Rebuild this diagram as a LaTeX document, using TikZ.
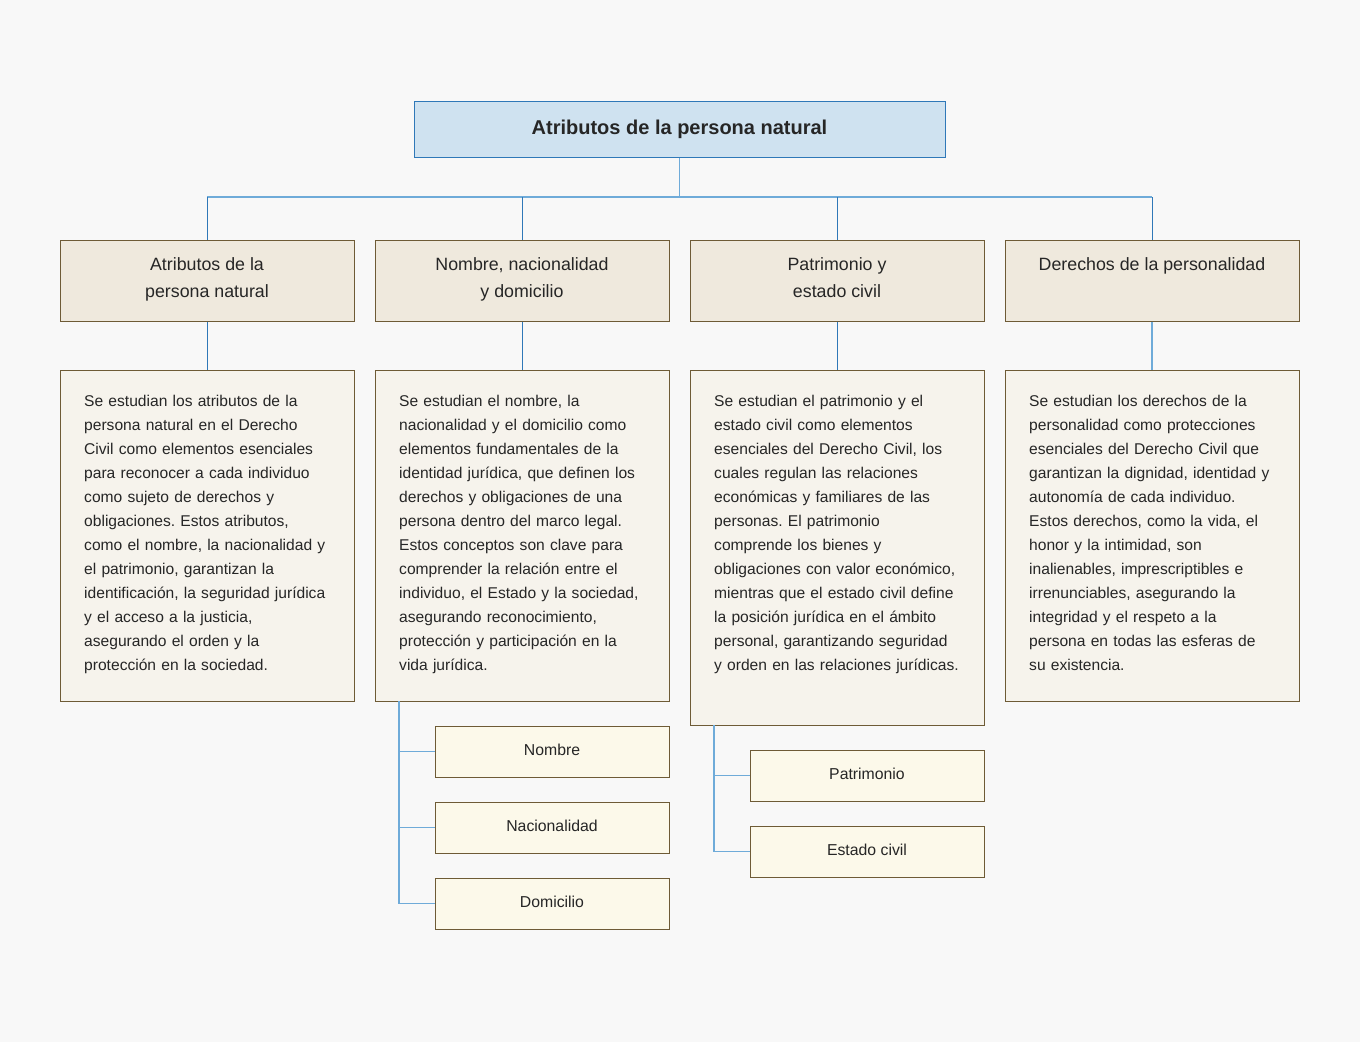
\documentclass[tikz,border=0pt]{standalone}
\usepackage{fontspec}
\setmainfont{Liberation Sans}
\frenchspacing
\definecolor{bg}{HTML}{F8F8F8}
\definecolor{titlefill}{HTML}{CFE2F0}
\definecolor{titleline}{HTML}{2F78B8}
\definecolor{brownline}{HTML}{6E5B36}
\definecolor{lvfill}{HTML}{EFE9DD}
\definecolor{descfill}{HTML}{F6F3EC}
\definecolor{subfill}{HTML}{FCF9EA}
\definecolor{lightblue}{HTML}{6FABD9}
\definecolor{darkblue}{HTML}{2F78B8}
\definecolor{txt}{HTML}{262626}
\begin{document}
\begin{tikzpicture}[x=1pt,y=-1pt,
  titlebox/.style={draw=titleline,fill=titlefill,line width=1pt,minimum width=531pt,minimum height=56pt,inner sep=0pt,text=txt,font=\fontsize{20}{24}\selectfont\bfseries},
  lvbox/.style={draw=brownline,fill=lvfill,line width=1pt,minimum width=294pt,minimum height=81pt,inner sep=0pt},
  lvtext/.style={anchor=north,inner sep=0pt,align=center,text=txt,font=\fontsize{17.8}{27}\selectfont},
  descbox/.style={draw=brownline,fill=descfill,line width=1pt,minimum width=294pt,inner sep=0pt},
  desctext/.style={anchor=north west,inner sep=0pt,align=left,text width=265pt,text=txt,font=\fontsize{15.6}{24}\selectfont},
  subbox/.style={draw=brownline,fill=subfill,line width=1pt,minimum width=234pt,minimum height=51pt,inner sep=0pt,text=txt,font=\fontsize{15.8}{18}\selectfont},
  bus/.style={draw=lightblue,line width=1.4pt},
  drop/.style={draw=darkblue,line width=0.9pt},
  sub/.style={draw=lightblue,line width=1.7pt}
]
\fill[bg] (0,0) rectangle (1360,1042);
\useasboundingbox (0,0) rectangle (1360,1042);

% title
\node[titlebox] (top) at (679.5,129) {\raisebox{4pt}{Atributos de la persona natural}};

% level 2 boxes
\node[lvbox] (l1) at (207,280.5) {};
\node[lvbox] (l2) at (522,280.5) {};
\node[lvbox] (l3) at (837,280.5) {};
\node[lvbox] (l4) at (1152,280.5) {};
\node[lvtext] (lt1) at (207,257.5) {Atributos de la\\persona natural};
\node[lvtext] (lt2) at (522,257.5) {Nombre, nacionalidad\\y domicilio};
\node[lvtext] (lt3) at (837,257.5) {Patrimonio y\\estado civil};
\node[lvtext] (lt4) at (1152,257.5) {Derechos de la personalidad};

% description boxes
\node[descbox,minimum height=331pt] (d1) at (207,535.5) {};
\node[descbox,minimum height=331pt] (d2) at (522,535.5) {};
\node[descbox,minimum height=355pt] (d3) at (837,547.5) {};
\node[descbox,minimum height=331pt] (d4) at (1152,535.5) {};

\node[desctext] (dt1) at (84,394.5) {Se estudian los atributos de la\\persona natural en el Derecho\\Civil como elementos esenciales\\para reconocer a cada individuo\\como sujeto de derechos y\\obligaciones. Estos atributos,\\como el nombre, la nacionalidad y\\el patrimonio, garantizan la\\identificación, la seguridad jurídica\\y el acceso a la justicia,\\asegurando el orden y la\\protección en la sociedad.};
\node[desctext] (dt2) at (399,394.5) {Se estudian el nombre, la\\nacionalidad y el domicilio como\\elementos fundamentales de la\\identidad jurídica, que definen los\\derechos y obligaciones de una\\persona dentro del marco legal.\\Estos conceptos son clave para\\comprender la relación entre el\\individuo, el Estado y la sociedad,\\asegurando reconocimiento,\\protección y participación en la\\vida jurídica.};
\node[desctext] (dt3) at (714,394.5) {Se estudian el patrimonio y el\\estado civil como elementos\\esenciales del Derecho Civil, los\\cuales regulan las relaciones\\económicas y familiares de las\\personas. El patrimonio\\comprende los bienes y\\obligaciones con valor económico,\\mientras que el estado civil define\\la posición jurídica en el ámbito\\personal, garantizando seguridad\\y orden en las relaciones jurídicas.};
\node[desctext] (dt4) at (1029,394.5) {Se estudian los derechos de la\\personalidad como protecciones\\esenciales del Derecho Civil que\\garantizan la dignidad, identidad y\\autonomía de cada individuo.\\Estos derechos, como la vida, el\\honor y la intimidad, son\\inalienables, imprescriptibles e\\irrenunciables, asegurando la\\integridad y el respeto a la\\persona en todas las esferas de\\su existencia.};

% sub boxes
\node[subbox] (s1) at (552,751.5) {\raisebox{3.5pt}{Nombre}};
\node[subbox] (s2) at (552,827.5) {\raisebox{3.5pt}{Nacionalidad}};
\node[subbox] (s3) at (552,903.5) {\raisebox{3.5pt}{Domicilio}};
\node[subbox] (s4) at (867,775.5) {\raisebox{3.5pt}{Patrimonio}};
\node[subbox] (s5) at (867,851.5) {\raisebox{3.5pt}{Estado civil}};

% connectors
\coordinate (busy) at (0,197);
\draw[bus] (top.south) -- (top.south |- busy);
\draw[bus] (l1.north |- busy) -- (l4.north |- busy);
\draw[drop] (l1.north |- busy) -- (l1.north);
\draw[drop] (l2.north |- busy) -- (l2.north);
\draw[drop] (l3.north |- busy) -- (l3.north);
\draw[drop] (l4.north |- busy) -- (l4.north);

\draw[drop] (l1.south) -- (d1.north);
\draw[drop] (l2.south) -- (d2.north);
\draw[drop] (l3.south) -- (d3.north);
\draw[bus] (l4.south) -- (d4.north);

\coordinate (v2) at (399,701);
\coordinate (v3) at (714,725);
\draw[sub] (v2) |- (s1.west);
\draw[sub] (v2) |- (s2.west);
\draw[sub] (v2) |- (s3.west);
\draw[sub] (v3) |- (s4.west);
\draw[sub] (v3) |- (s5.west);
\end{tikzpicture}
\end{document}
